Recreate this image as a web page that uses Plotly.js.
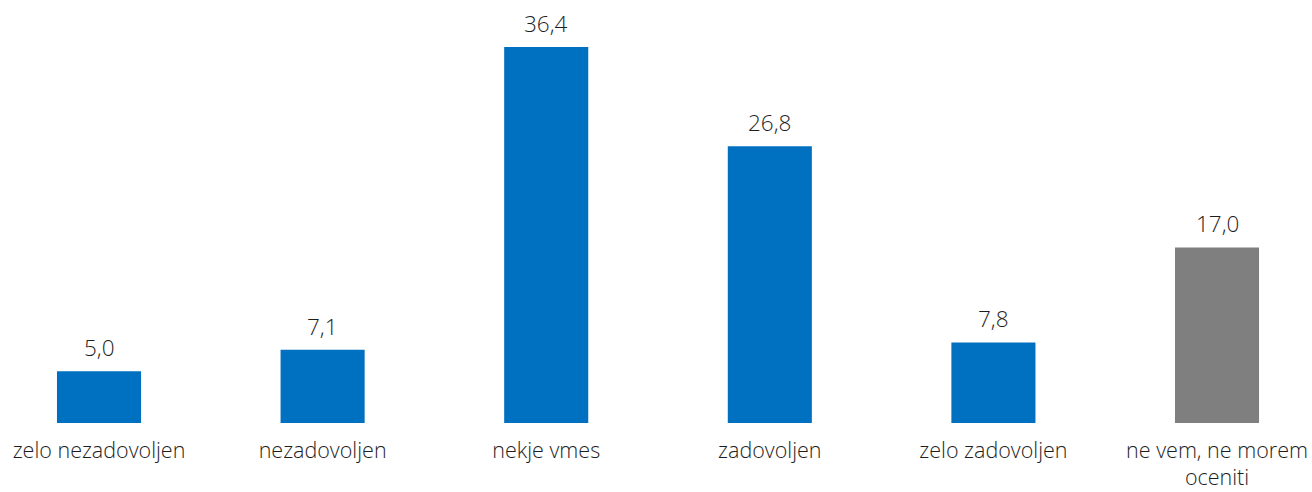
<!DOCTYPE html>
<html>
<head>
<meta charset="utf-8">
<script src="https://cdn.plot.ly/plotly-3.0.1.min.js"></script>
<style>html,body{margin:0;padding:0;background:#fff;}#chart{width:1312px;height:492px;}</style>
</head>
<body>
<div id="chart"></div>
<script>
const categories = ["zelo nezadovoljen", "nezadovoljen", "nekje vmes", "zadovoljen", "zelo zadovoljen", "ne vem, ne morem oceniti"];
const tickLabels = ["zelo nezadovoljen", "nezadovoljen", "nekje vmes", "zadovoljen", "zelo zadovoljen", "ne vem, ne morem<br>oceniti"];
const values = [5.0, 7.1, 36.4, 26.8, 7.8, 17.0];
const barColors = ["#0070C0", "#0070C0", "#0070C0", "#0070C0", "#0070C0", "#7F7F7F"];

const FONT = "Open Sans, Segoe UI, sans-serif";
const textColor = "#1e1e1e";

const trace = {
  type: "bar",
  x: categories,
  y: values,
  marker: {color: barColors},
  width: 0.376,
  hoverinfo: "none"
};

const annotations = categories.map((c, i) => ({
  x: c, y: values[i], xref: "x", yref: "y",
  text: values[i].toFixed(1).replace(".", ","),
  showarrow: false, yanchor: "bottom", yshift: 6,
  font: {family: FONT, size: 22.5, color: textColor, weight: 300}
}));

const layout = {
  width: 1312, height: 492,
  margin: {l: 0, r: 0, t: 0, b: 69, pad: 0},
  paper_bgcolor: "#fff", plot_bgcolor: "#fff",
  showlegend: false,
  xaxis: {
    type: "category",
    categoryorder: "array", categoryarray: categories,
    tickvals: categories, ticktext: tickLabels,
    range: [-0.4428, 5.4248],
    showgrid: false, zeroline: false, showline: false,
    ticks: "", ticklabelstandoff: 12,
    tickfont: {family: FONT, size: 21.5, color: textColor, weight: 300}
  },
  yaxis: {
    range: [0, 40.95],
    visible: false, showgrid: false, zeroline: false
  },
  annotations: annotations
};

Plotly.newPlot("chart", [trace], layout, {staticPlot: true, displayModeBar: false});
</script>
</body>
</html>
